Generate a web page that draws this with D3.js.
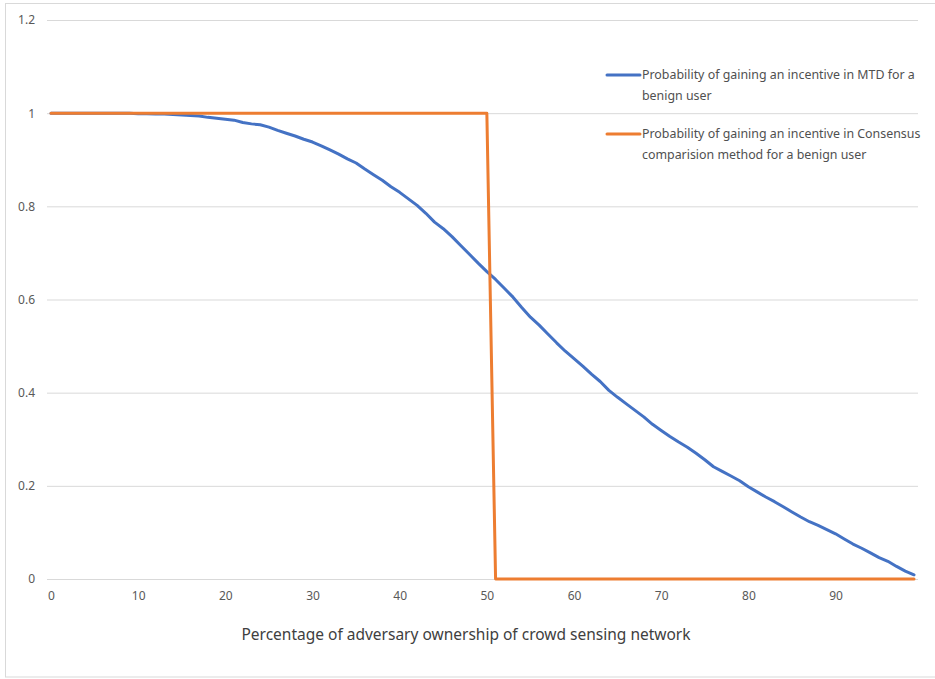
<!DOCTYPE html>
<html>
<head>
<meta charset="utf-8">
<script src="https://cdn.jsdelivr.net/npm/d3@7"></script>
<style>
  html, body { margin: 0; padding: 0; background: #ffffff; }
  svg { display: block; }
  text { font-family: "Noto Sans", "Open Sans", sans-serif; }
</style>
</head>
<body>
<svg id="chart" width="935" height="679"></svg>
<script>
// Adversary ownership percentage (category axis, 0..99)
const ownership = d3.range(0, 100);

// Probability of a benign user gaining an incentive with MTD
const mtdProbability = [
  1, 1, 1, 1, 1, 1, 1, 1, 1, 1,
  0.999, 0.999, 0.998, 0.998, 0.997, 0.996, 0.995, 0.994, 0.991, 0.989,
  0.987, 0.985, 0.980, 0.977, 0.975, 0.970, 0.963, 0.957, 0.951, 0.944,
  0.938, 0.930, 0.921, 0.912, 0.902, 0.893, 0.880, 0.868, 0.856, 0.842,
  0.830, 0.816, 0.802, 0.785, 0.766, 0.752, 0.735, 0.716, 0.697, 0.678,
  0.660, 0.643, 0.624, 0.605, 0.583, 0.562, 0.545, 0.526, 0.507, 0.489,
  0.473, 0.457, 0.440, 0.424, 0.405, 0.390, 0.376, 0.362, 0.348, 0.332,
  0.319, 0.306, 0.294, 0.283, 0.270, 0.256, 0.241, 0.231, 0.221, 0.211,
  0.198, 0.187, 0.176, 0.166, 0.155, 0.144, 0.133, 0.123, 0.115, 0.106,
  0.097, 0.086, 0.075, 0.066, 0.056, 0.046, 0.038, 0.027, 0.017, 0.009
];

// Probability of a benign user gaining an incentive with consensus comparison
const consensusProbability = [
  1, 1, 1, 1, 1, 1, 1, 1, 1, 1,
  1, 1, 1, 1, 1, 1, 1, 1, 1, 1,
  1, 1, 1, 1, 1, 1, 1, 1, 1, 1,
  1, 1, 1, 1, 1, 1, 1, 1, 1, 1,
  1, 1, 1, 1, 1, 1, 1, 1, 1, 1,
  1, 0, 0, 0, 0, 0, 0, 0, 0, 0,
  0, 0, 0, 0, 0, 0, 0, 0, 0, 0,
  0, 0, 0, 0, 0, 0, 0, 0, 0, 0,
  0, 0, 0, 0, 0, 0, 0, 0, 0, 0,
  0, 0, 0, 0, 0, 0, 0, 0, 0, 0
];

const yTicks = [0, 0.2, 0.4, 0.6, 0.8, 1, 1.2];
const xTickValues = [0, 10, 20, 30, 40, 50, 60, 70, 80, 90];

const seriesNames = [
  ["Probability of gaining an incentive in MTD for a", "benign user"],
  ["Probability of gaining an incentive in Consensus", "comparision method for a benign user"]
];
const seriesColors = ["#4472C4", "#ED7D31"];
const xTitle = "Percentage of adversary ownership of crowd sensing network";

const svg = d3.select("#chart");

// Chart frame
svg.append("rect")
  .attr("x", 5.5).attr("y", 3.5)
  .attr("width", 935).attr("height", 673.5)
  .attr("fill", "#ffffff")
  .attr("stroke", "#d9d9d9");

const plotLeft = 47, plotRight = 918, plotTop = 20, plotBottom = 579;

const x = d3.scaleLinear().domain([0, 99]).range([51, 914]);
const y = d3.scaleLinear().domain([0, 1.2]).range([plotBottom, plotTop]);

// Horizontal gridlines
svg.append("g")
  .selectAll("line")
  .data(yTicks)
  .join("line")
  .attr("x1", plotLeft).attr("x2", plotRight)
  .attr("y1", d => y(d) + 0.5).attr("y2", d => y(d) + 0.5)
  .attr("stroke", "#d9d9d9").attr("stroke-width", 1);

// Y axis labels
const yAxis = d3.axisLeft(y).tickValues(yTicks).tickSize(0).tickPadding(0)
  .tickFormat(d => d3.format("")(+d.toFixed(1)));
const yg = svg.append("g").attr("transform", `translate(35,0)`).call(yAxis);
yg.select(".domain").remove();
yg.selectAll("text")
  .attr("fill", "#595959")
  .style("font-size", "12px")
  .style("font-family", "\"Noto Sans\", sans-serif");

// X axis labels
const xAxis = d3.axisBottom(x).tickValues(xTickValues).tickSize(0).tickPadding(0)
  .tickFormat(d3.format("d"));
const xg = svg.append("g").attr("transform", `translate(0,${plotBottom + 12})`).call(xAxis);
xg.select(".domain").remove();
xg.selectAll("text")
  .attr("fill", "#595959")
  .style("font-size", "12px")
  .style("font-family", "\"Noto Sans\", sans-serif");

// X axis title
svg.append("text")
  .attr("x", 466).attr("y", 640)
  .attr("text-anchor", "middle")
  .attr("fill", "#404040")
  .style("font-size", "15.5px")
  .text(xTitle);

// Series lines
const line = d3.line()
  .x((d, i) => x(ownership[i]))
  .y(d => y(d));

[mtdProbability, consensusProbability].forEach((vals, k) => {
  svg.append("path")
    .datum(vals)
    .attr("d", line)
    .attr("fill", "none")
    .attr("stroke", seriesColors[k])
    .attr("stroke-width", 3)
    .attr("stroke-linejoin", "round")
    .attr("stroke-linecap", "round");
});

// Legend
const legend = svg.append("g");
const legendY = [75, 134];
seriesNames.forEach((lines, k) => {
  legend.append("line")
    .attr("x1", 607).attr("x2", 640)
    .attr("y1", legendY[k]).attr("y2", legendY[k])
    .attr("stroke", seriesColors[k])
    .attr("stroke-width", 3)
    .attr("stroke-linecap", "round");
  const t = legend.append("text")
    .attr("x", 642).attr("y", legendY[k] + 4)
    .attr("fill", "#505050")
    .style("font-size", "12.4px");
  lines.forEach((s, j) => {
    t.append("tspan").attr("x", 642).attr("dy", j === 0 ? 0 : 21).text(s);
  });
});
</script>
</body>
</html>
